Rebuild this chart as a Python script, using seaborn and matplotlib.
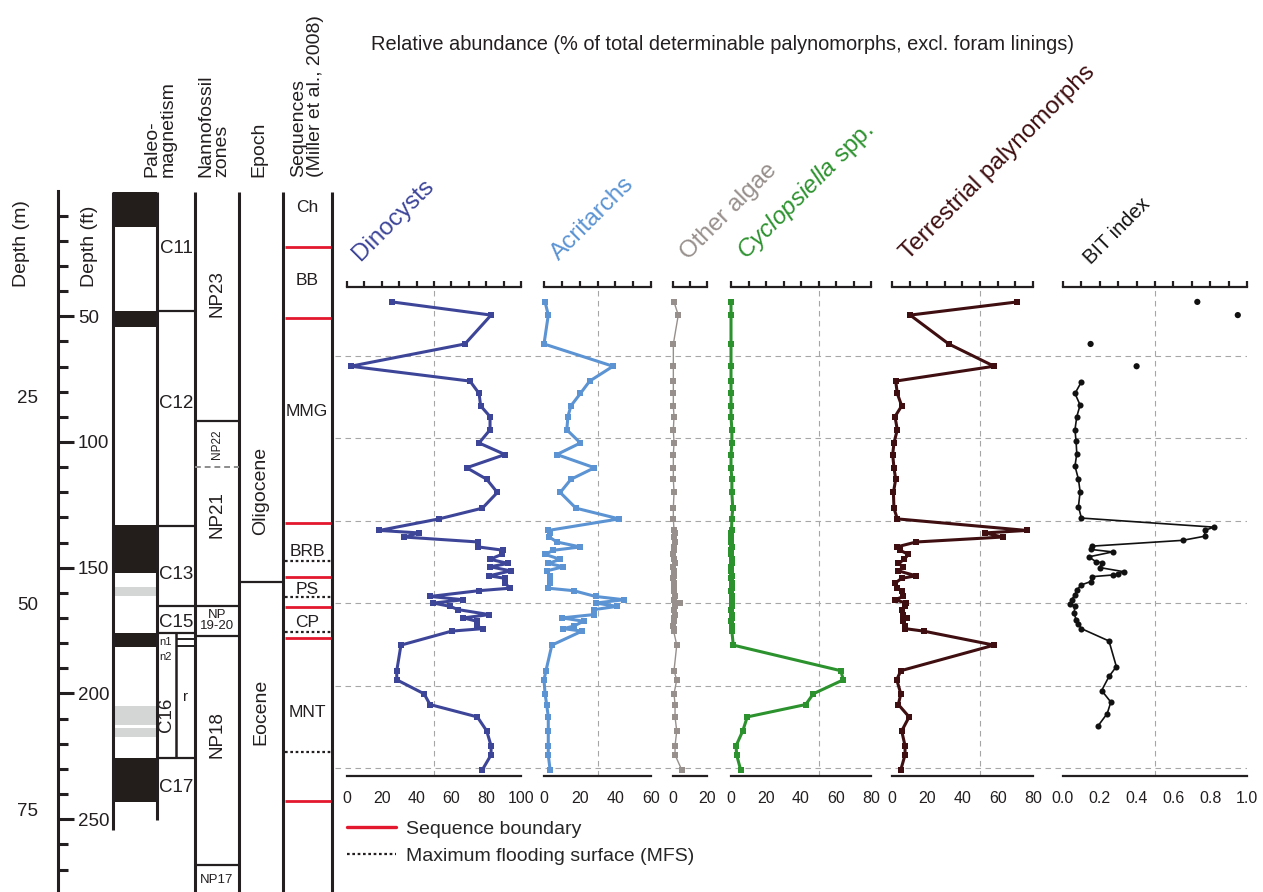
import numpy as np
import matplotlib
matplotlib.use("Agg")
import matplotlib.pyplot as plt
import seaborn as sns
from matplotlib.lines import Line2D
from matplotlib.ticker import FixedLocator, MultipleLocator, FormatStrFormatter

# ---------------------------------------------------------------- data
# sample depths (m), shared by the palynological series
depth_m = [13.5, 15.1, 18.6, 21.3, 23.1, 24.6, 26.1, 27.4, 29.0, 30.6,
           32.0, 33.6, 35.0, 36.6, 38.5, 39.8, 41.2, 41.5, 42.0,
           42.6, 43.2, 43.6, 44.1, 44.7, 45.2, 45.6, 46.1, 46.7, 47.0,
           47.6, 48.2, 48.5, 49.2, 49.6, 50.0, 50.4, 50.8, 51.4, 51.8,
           52.2, 52.8, 53.1, 53.4,
           55.1, 58.2, 59.3, 61.0, 62.3, 63.8, 65.5, 67.3, 68.4, 70.2]

dinocysts = [25.7, 82.8, 67.8, 2.1, 70.7, 75.9, 76.8, 82.2, 82.2, 75.9,
             90.8, 68.8, 80.3, 86.4, 77.8, 52.9, 18.6, 41.4, 32.9,
             75.5, 75.5, 89.8, 88.9, 82.2, 92.7, 82.2, 94.1, 81.6, 90.8,
             90.8, 93.7, 75.9, 47.7, 66.9, 49.6, 59.2, 64.0, 81.8, 66.9,
             74.5, 74.5, 78.3, 60.2,
             31.0, 28.6, 28.6, 44.3, 47.7, 74.9, 80.3, 82.8, 82.8, 77.8]

acritarchs = [0.6, 2.4, 0.0, 38.7, 25.6, 20.4, 15.1, 13.4, 12.8, 20.4,
              7.2, 28.3, 15.1, 9.1, 17.9, 42.1, 2.4, 3.4, 3.0,
              7.2, 20.4, 5.3, 0.6, 9.1, 2.4, 10.9, 1.5, 3.4, 3.4,
              3.4, 2.4, 16.6, 28.9, 44.9, 28.9, 41.1, 27.9, 27.9, 10.0,
              22.2, 16.6, 10.9, 21.3,
              4.4, 1.1, 0.0, 0.6, 1.5, 2.4, 2.4, 2.4, 2.4, 3.4]

other_algae = [0.6, 3.1, 0.2, 0.2, 0.2, 0.2, 0.2, 0.6, 0.2, 0.6,
               0.2, 0.2, 0.2, 0.6, 0.2, 0.2, 0.6, 1.2, 0.4,
               1.2, 0.4, 0.8, 0.2, 0.6, 1.0, 0.2, 0.8, 0.4, 0.2,
               0.6, 0.4, 0.8, 1.2, 0.6, 4.1, 1.0, 0.6, 1.2, 0.4,
               0.8, 0.2, 0.6, 0.4,
               2.2, 0.6, 2.2, 0.6, 1.2, 1.2, 2.2, 1.2, 1.2, 5.1]

cyclopsiella = [0.0, 0.0, 0.0, 0.0, 0.0, 0.0, 0.0, 0.0, 0.5, 0.5,
                0.0, 0.0, 0.5, 0.5, 1.0, 0.5, 0.3, 0.2, 0.2,
                0.0, 0.3, 0.2, 0.0, 0.3, 0.5, 0.2, 0.0, 0.3, 0.2,
                0.5, 0.3, 0.2, 0.5, 0.3, 0.5, 0.3, 0.2, 0.5, 0.3,
                0.2, 0.5, 0.3, 0.5,
                1.3, 62.7, 64.2, 47.0, 42.7, 9.3, 6.7, 2.9, 3.2, 5.5]

terrestrial = [71.2, 10.3, 32.2, 57.9, 2.1, 3.0, 5.5, 1.7, 3.0, 1.1,
               0.4, 1.1, 2.1, 0.8, 1.1, 3.0, 76.4, 52.7, 62.7,
               13.7, 2.7, 4.5, 9.3, 7.0, 3.6, 6.5, 3.6, 13.7, 5.5,
               1.7, 2.7, 5.5, 6.5, 1.7, 8.0, 7.5, 5.5, 6.0, 8.7,
               6.1, 7.4, 7.4, 17.9,
               57.9, 5.0, 2.7, 5.0, 3.6, 9.7, 5.5, 7.4, 7.4, 5.0]

# BIT index (separate biomarker samples)
bit_iso_depth = [13.5, 15.1, 18.6, 21.3]
bit_iso = [0.73, 0.95, 0.15, 0.40]
bit_depth = [23.2, 24.6, 26.0, 27.4, 29.0, 30.4, 31.9, 33.4, 35.0, 36.5,
             38.3, 39.7, 40.8, 41.2, 41.9, 42.4, 43.1, 43.5, 43.8, 44.4,
             45.0, 45.1, 45.7, 46.2, 46.5, 46.6, 46.8, 47.4, 47.8, 48.4,
             49.0, 49.6, 50.1, 50.4, 51.2, 52.0, 52.5, 53.1, 54.6, 57.7,
             58.9, 60.6, 62.0, 63.4, 64.9]
bit_index = [0.10, 0.065, 0.093, 0.075, 0.065, 0.071, 0.075, 0.065, 0.084, 0.093,
             0.084, 0.10, 0.82, 0.77, 0.77, 0.65, 0.16, 0.15, 0.27, 0.14,
             0.18, 0.21, 0.20, 0.33, 0.30, 0.27, 0.16, 0.15, 0.10, 0.075,
             0.065, 0.047, 0.038, 0.065, 0.06, 0.071, 0.084, 0.10, 0.25, 0.29,
             0.25, 0.21, 0.26, 0.24, 0.19]

# stratigraphy (depths in m)
normal_top = [0.2, 14.6, 40.5, 53.6, 68.8]
normal_base = [4.4, 16.5, 46.4, 55.3, 74.1]
uncertain_top = [48.1, 62.5, 65.2]
uncertain_base = [49.2, 64.8, 66.2]
chron_bounds = [14.6, 40.7, 50.3, 53.6, 68.8]
chron_names = ["C11", "C12", "C13", "C15", "C17"]
chron_label_depth = [7.0, 25.8, 46.6, 52.3, 72.4]
nanno_bounds = [27.9, 50.4, 54.0, 81.7]
nanno_dashed = [33.5]
epoch_bound = [47.5]
seq_bounds = [6.9, 15.45, 40.3, 46.85, 50.5, 54.2, 74.0]
mfs_depths = [44.9, 49.3, 53.5, 68.0]
seq_names = ["Ch", "BB", "MMG", "BRB", "PS", "CP", "MNT"]
seq_label_depth = [2.1, 10.85, 26.8, 43.8, 48.4, 52.3, 63.3]
grid_depths = [20, 30, 40, 50, 60, 70]

# ---------------------------------------------------------------- layout
W, H = 1263, 892
TOP_PX = 190.5       # pixel row of 0 m
PX_PER_M = 8.251
INK = "#231F20"
RED = "#E3172E"
GRID = "#A6A6A6"


def frac_rect(x0, y0, x1, y1):
    return [x0 / W, 1 - y1 / H, (x1 - x0) / W, (y1 - y0) / H]


def px_to_m(py):
    return (py - TOP_PX) / PX_PER_M


sns.set_style("white")
plt.rcParams["font.family"] = ["Liberation Sans", "DejaVu Sans"]
plt.rcParams["mathtext.fontset"] = "custom"
plt.rcParams["mathtext.it"] = "Liberation Sans:italic"
plt.rcParams["mathtext.rm"] = "Liberation Sans"

fig = plt.figure(figsize=(W / 100, H / 100), dpi=100)

# overlay for free text, pixel coordinates
ax_txt = fig.add_axes([0, 0, 1, 1])
ax_txt.set_xlim(0, W)
ax_txt.set_ylim(H, 0)
ax_txt.axis("off")

# ---------------------------------------------------------------- depth axis
ax_dep = fig.add_axes(frac_rect(58, TOP_PX, 58.6, H))
ax_dep.set_ylim(px_to_m(H), 0)
ax_dep.set_xlim(0, 1)
ax_dep.patch.set_alpha(0)
for s in ["top", "bottom", "right"]:
    ax_dep.spines[s].set_visible(False)
ax_dep.spines["left"].set_linewidth(2.2)
ax_dep.spines["left"].set_color(INK)
ax_dep.set_xticks([])
ax_dep.yaxis.set_major_locator(FixedLocator([0, 25, 50, 75]))
ax_dep.set_yticklabels(["", "25", "50", "75"])
ax_dep.yaxis.set_minor_locator(FixedLocator([5, 10, 15, 20, 30, 35, 40, 45, 55, 60, 65, 70, 80]))
ax_dep.tick_params(axis="y", which="major", length=11.5, width=2.2, color=INK,
                   labelsize=13.5, pad=3, labelcolor=INK)
ax_dep.tick_params(axis="y", which="minor", length=6.5, width=2.2, color=INK)

sec = ax_dep.secondary_yaxis("right", functions=(lambda m: m / 0.3048, lambda f: f * 0.3048))
sec.spines["right"].set_visible(False)
sec.yaxis.set_major_locator(FixedLocator([50, 100, 150, 200, 250]))
sec.yaxis.set_minor_locator(FixedLocator([f for f in range(10, 280, 10) if f % 50]))
sec.tick_params(axis="y", which="major", length=11, width=2.2, color=INK,
                labelsize=13.5, pad=3, labelcolor=INK)
sec.tick_params(axis="y", which="minor", length=6.5, width=2.2, color=INK)

# ---------------------------------------------------------------- strat columns
ax_col = fig.add_axes(frac_rect(0, TOP_PX, 340, H))
ax_col.set_xlim(0, 340)
ax_col.set_ylim(px_to_m(H), 0)
ax_col.axis("off")

for t, b in zip(normal_top, normal_base):
    ax_col.axhspan(b, t, xmin=113 / 340, xmax=157 / 340, color="#231E1B", lw=0)
for t, b in zip(uncertain_top, uncertain_base):
    ax_col.axhspan(b, t, xmin=113 / 340, xmax=157 / 340, color="#D4D5D5", lw=0)

ax_col.vlines([113], 0.2, 77.5, color=INK, lw=2.2)
ax_col.vlines([157], 0.2, 76.3, color=INK, lw=2.2)
ax_col.vlines([195, 239, 283, 332], 0.2, px_to_m(H), color=INK, lw=2.2)
ax_col.vlines([176], chron_bounds[3], chron_bounds[4], color=INK, lw=1.8)

ax_col.hlines(chron_bounds, 157, 195, color=INK, lw=1.6)
ax_col.hlines([54.35, 55.2], 176, 195, color=INK, lw=1.4)
ax_col.hlines(nanno_bounds, 195, 239, color=INK, lw=1.6)
ax_col.hlines(nanno_dashed, 195, 239, color="#8C8C8C", lw=1.4, linestyle=(0, (3, 2)))
ax_col.hlines(epoch_bound, 239, 283, color=INK, lw=1.6)
ax_col.hlines(seq_bounds, 285, 331, color=RED, lw=2.0)
ax_col.hlines(mfs_depths, 285, 331, color=INK, lw=1.6, linestyle=(0, (1.2, 1.2)))

for name, d in zip(chron_names, chron_label_depth):
    ax_col.text(176, d, name, ha="center", va="center", fontsize=13.5, color=INK)
ax_col.text(166, 63.6, "C16", ha="center", va="center", rotation=90, fontsize=13.5, color=INK)
ax_col.text(186, 61.4, "r", ha="center", va="center", fontsize=11, color=INK)
ax_col.text(166, 54.7, "n1", ha="center", va="center", fontsize=8, color=INK)
ax_col.text(166, 56.5, "n2", ha="center", va="center", fontsize=8, color=INK)

ax_col.text(217, 12.5, "NP23", ha="center", va="center", rotation=90, fontsize=13.5, color=INK)
ax_col.text(217, 30.8, "NP22", ha="center", va="center", rotation=90, fontsize=8.5, color=INK)
ax_col.text(217, 39.3, "NP21", ha="center", va="center", rotation=90, fontsize=13.5, color=INK)
ax_col.text(217, 52.1, "NP\n19-20", ha="center", va="center", fontsize=9.5, color=INK,
            linespacing=0.95)
ax_col.text(217, 65.9, "NP18", ha="center", va="center", rotation=90, fontsize=13.5, color=INK)
ax_col.text(217, 83.6, "NP17", ha="center", va="center", fontsize=9.5, color=INK)

ax_col.text(261, 36.4, "Oligocene", ha="center", va="center", rotation=90, fontsize=14, color=INK)
ax_col.text(261, 63.2, "Eocene", ha="center", va="center", rotation=90, fontsize=14, color=INK)

for name, d in zip(seq_names, seq_label_depth):
    ax_col.text(307, d, name, ha="center", va="center", fontsize=12.5, color=INK)

# column headers
headers = [("Depth (m)", 22, 287), ("Depth (ft)", 90, 287),
           ("Paleo-\nmagnetism", 160, 177), ("Nannofossil\nzones", 214, 177),
           ("Epoch", 259, 177), ("Sequences\n(Miller et al., 2008)", 307, 177)]
for txt, x, yb in headers:
    ax_txt.text(x, yb, txt, rotation=90, ha="center", va="bottom", multialignment="left",
                fontsize=14, linespacing=0.95, color=INK)

# ---------------------------------------------------------------- data panels
PANEL_TOP, PANEL_BOT = 287, 776
ylim = (px_to_m(PANEL_BOT), px_to_m(PANEL_TOP))

ax_grid = fig.add_axes(frac_rect(335, PANEL_TOP, 1247, PANEL_BOT))
ax_grid.set_xlim(0, 1)
ax_grid.set_ylim(*ylim)
ax_grid.axis("off")
ax_grid.hlines(grid_depths, 0, 1, color=GRID, lw=0.8, linestyle=(0, (5, 4)))

panels = [
    dict(name="Dinocysts", vals=dinocysts, x=(347, 521), xmax=100, major=20, vgrid=50,
         color="#3D4599", lw=2.2, marker="s", ms=4.3),
    dict(name="Acritarchs", vals=acritarchs, x=(544, 651), xmax=60, major=20, vgrid=30,
         color="#5B93D3", lw=2.2, marker="s", ms=4.3),
    dict(name="Other algae", vals=other_algae, x=(673, 707), xmax=20, major=20, vgrid=None,
         color="#978F8C", lw=1.0, marker="s", ms=4.0),
    dict(name=r"$\mathit{Cyclopsiella}$ spp.", vals=cyclopsiella, x=(731, 871), xmax=80, major=20,
         vgrid=50, color="#2C922E", lw=2.2, marker="s", ms=4.3),
    dict(name="Terrestrial palynomorphs", vals=terrestrial, x=(892, 1033), xmax=80, major=20,
         vgrid=50, color="#3E0E10", lw=2.2, marker="s", ms=4.3),
]

label_anchor = {"Dinocysts": (360, 261), "Acritarchs": (559, 261), "Other algae": (688, 260),
                r"$\mathit{Cyclopsiella}$ spp.": (746, 260), "Terrestrial palynomorphs": (908, 260)}


def style_panel(ax, xmax, major, minor, vgrid, fmt=None):
    ax.set_xlim(0, xmax)
    ax.set_ylim(*ylim)
    ax.patch.set_alpha(0)
    for s in ["left", "right", "top"]:
        ax.spines[s].set_visible(False)
    ax.spines["bottom"].set_linewidth(1.6)
    ax.spines["bottom"].set_color(INK)
    ax.set_yticks([])
    ax.set_xlabel("")
    ax.set_ylabel("")
    ax.xaxis.set_major_locator(MultipleLocator(major))
    ax.xaxis.set_minor_locator(MultipleLocator(minor))
    if fmt:
        ax.xaxis.set_major_formatter(FormatStrFormatter(fmt))
    ax.tick_params(axis="x", which="major", length=8, width=1.6, color=INK,
                   labelsize=11.5, pad=3, labelcolor=INK)
    ax.tick_params(axis="x", which="minor", length=5, width=1.6, color=INK)
    top = ax.secondary_xaxis("top")
    top.xaxis.set_major_locator(MultipleLocator(minor))
    top.tick_params(axis="x", which="major", length=4.5, width=1.6, color=INK, labeltop=False)
    top.spines["top"].set_linewidth(1.6)
    top.spines["top"].set_color(INK)
    if vgrid is not None:
        ax.axvline(vgrid, color=GRID, lw=0.8, linestyle=(0, (5, 4)), zorder=0)


for p in panels:
    ax = fig.add_axes(frac_rect(p["x"][0], PANEL_TOP, p["x"][1], PANEL_BOT))
    sns.lineplot(x=p["vals"], y=depth_m, sort=False, estimator=None, ax=ax,
                 color=p["color"], lw=p["lw"], marker=p["marker"], markersize=p["ms"],
                 markeredgewidth=0, clip_on=False, zorder=3)
    style_panel(ax, p["xmax"], p["major"], 10, p["vgrid"])
    ax_txt.text(*label_anchor[p["name"]], p["name"], rotation=45, rotation_mode="anchor",
                ha="left", va="baseline", fontsize=17.5, color=p["color"])

ax_bit = fig.add_axes(frac_rect(1063, PANEL_TOP, 1247, PANEL_BOT))
sns.lineplot(x=bit_index, y=bit_depth, sort=False, estimator=None, ax=ax_bit,
             color="#111111", lw=1.2, marker="o", markersize=4.4, markeredgewidth=0,
             clip_on=False, zorder=3)
sns.scatterplot(x=bit_iso, y=bit_iso_depth, ax=ax_bit, color="#111111", s=20,
                edgecolor="none", zorder=3, clip_on=False)
style_panel(ax_bit, 1.0, 0.2, 0.1, 0.5, fmt="%.1f")
ax_txt.text(1091, 265, "BIT index", rotation=45, rotation_mode="anchor",
            ha="left", va="baseline", fontsize=14.5, color="#111111")

ax_txt.text(371, 45, "Relative abundance (% of total determinable palynomorphs, excl. foram linings)",
            ha="left", va="center", fontsize=14.4, color=INK)

handles = [Line2D([], [], color=RED, lw=2.4),
           Line2D([], [], color=INK, lw=1.6, linestyle=(0, (1.2, 1.2)))]
fig.legend(handles, ["Sequence boundary", "Maximum flooding surface (MFS)"],
           loc="upper left", bbox_to_anchor=(347 / W, 1 - 820 / H), frameon=False,
           fontsize=14, handlelength=2.5, handletextpad=0.55, labelspacing=0.5,
           borderpad=0, borderaxespad=0)

fig.savefig("out.png", dpi=100)
